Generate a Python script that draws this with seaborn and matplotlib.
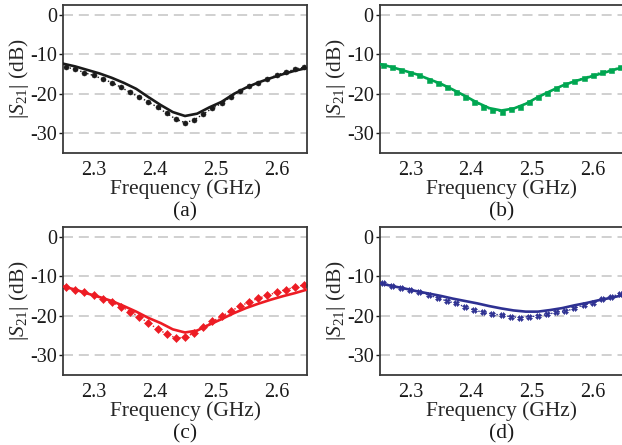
import matplotlib
matplotlib.use("Agg")
import matplotlib.pyplot as plt
import seaborn as sns
import pandas as pd

# ---------------- data ----------------
freq_line = [2.25, 2.27, 2.29, 2.31, 2.33, 2.35, 2.37, 2.39, 2.41, 2.43, 2.45,
             2.47, 2.49, 2.51, 2.53, 2.55, 2.57, 2.59, 2.61, 2.63, 2.65]
freq_meas = [2.255, 2.270, 2.285, 2.300, 2.315, 2.330, 2.345, 2.360, 2.375,
             2.390, 2.405, 2.420, 2.435, 2.450, 2.465, 2.480, 2.495, 2.510,
             2.525, 2.540, 2.555, 2.570, 2.585, 2.600, 2.615, 2.630, 2.645]

sim_a = [-12.4, -13.1, -14.0, -14.9, -16.0, -17.3, -18.8, -20.9, -22.9, -24.7, -25.7,
         -25.1, -23.5, -22.1, -20.1, -18.5, -17.2, -16.1, -15.1, -14.2, -13.5]
meas_a = [-13.3, -13.8, -14.7, -15.4, -16.3, -17.2, -18.4, -19.7, -20.9, -22.1,
          -23.5, -25.0, -26.5, -27.4, -26.7, -25.2, -23.7, -22.5, -20.9, -19.3,
          -18.2, -17.2, -16.4, -15.3, -14.6, -13.8, -13.3]

sim_b = [-12.5, -13.3, -14.2, -15.1, -16.3, -17.5, -19.0, -20.6, -22.3, -23.7, -24.3,
         -23.8, -22.6, -20.9, -19.4, -18.0, -16.9, -16.0, -15.1, -14.2, -13.3]
meas_b = [-12.7, -13.3, -14.0, -14.7, -15.4, -16.5, -17.4, -18.4, -19.5, -20.8,
          -22.1, -23.3, -24.2, -24.6, -24.0, -23.3, -22.1, -20.9, -19.8, -18.7,
          -17.6, -16.8, -16.0, -15.3, -14.5, -14.0, -13.3]

sim_c = [-12.6, -13.4, -14.4, -15.3, -16.3, -17.6, -19.0, -20.6, -21.9, -23.5, -24.3,
         -23.8, -22.3, -20.9, -19.4, -18.1, -17.0, -16.0, -15.1, -14.3, -13.4]
meas_c = [-12.8, -13.4, -14.1, -14.9, -15.8, -16.6, -17.7, -19.0, -20.3, -21.9,
          -23.4, -24.7, -25.7, -25.5, -24.4, -23.0, -21.5, -20.2, -18.9, -17.6,
          -16.6, -15.6, -14.9, -14.1, -13.4, -12.8, -12.2]

sim_d = [-11.8, -12.5, -13.1, -13.8, -14.4, -15.0, -15.7, -16.3, -16.9, -17.6, -18.2,
         -18.7, -19.0, -19.0, -18.6, -18.1, -17.4, -16.8, -16.1, -15.5, -14.8]
meas_d = [-11.8, -12.4, -12.9, -13.5, -14.1, -14.8, -15.5, -16.3, -16.9, -17.8,
          -18.6, -19.2, -19.6, -19.9, -20.3, -20.5, -20.3, -20.1, -19.7, -19.2,
          -18.9, -18.2, -17.3, -16.7, -15.8, -15.2, -14.5]

panel_labels = ["(a)", "(b)", "(c)", "(d)"]
colors = ["#1a1a1a", "#00a651", "#ed1c24", "#2e3192"]
markers = ["o", "s", "D", "X"]
marker_sizes = [3.6, 3.6, 3.6, 4.0]
y_ticks = [0, -10, -20, -30]
x_ticks = [2.3, 2.4, 2.5, 2.6]

# ---------------- style ----------------
sns.set_theme(style="white")
plt.rcParams["font.family"] = ["Liberation Serif", "DejaVu Serif"]
plt.rcParams["mathtext.fontset"] = "custom"
plt.rcParams["mathtext.rm"] = "Liberation Serif"
plt.rcParams["mathtext.it"] = "Liberation Serif:italic"
plt.rcParams["axes.unicode_minus"] = False

W, H = 622, 445
fig = plt.figure(figsize=(W / 100, H / 100), dpi=100)

boxes = [(63, 5, 244, 148), (380, 5, 243, 148),
         (63, 227, 244, 148), (380, 227, 243, 148)]

sims = [sim_a, sim_b, sim_c, sim_d]
meas = [meas_a, meas_b, meas_c, meas_d]

for i in range(4):
    x0, y0, w, h = boxes[i]
    ax = fig.add_axes([x0 / W, 1 - (y0 + h) / H, w / W, h / H])
    for yt in y_ticks:
        ax.axhline(yt, color="#c8c8c8", lw=1.2, dashes=(6, 3.5), zorder=0)
    df_s = pd.DataFrame({"f": freq_line, "s21": sims[i]})
    df_m = pd.DataFrame({"f": freq_meas, "s21": meas[i]})
    sns.lineplot(data=df_m, x="f", y="s21", ax=ax, color=colors[i],
                 linestyle=":", lw=1.0, marker=markers[i],
                 markersize=marker_sizes[i],
                 markeredgewidth=0.4, markeredgecolor=colors[i],
                 estimator=None, sort=False, zorder=2)
    sns.lineplot(data=df_s, x="f", y="s21", ax=ax, color=colors[i],
                 lw=1.9, estimator=None, sort=False, zorder=3)
    ax.set_xlim(2.25, 2.65)
    ax.set_ylim(-35.1, 2.5)
    ax.set_xticks(x_ticks)
    ax.set_xticklabels([f"{v:.1f}" for v in x_ticks])
    ax.set_yticks(y_ticks)
    ax.set_yticklabels([str(v) for v in y_ticks])
    ax.tick_params(axis="x", length=0, pad=6, labelsize=14.5, colors="#1a1a1a")
    ax.tick_params(axis="y", length=3, width=1, direction="out", pad=1.5,
                   labelsize=14.5, colors="#1a1a1a", left=True)
    for sp in ax.spines.values():
        sp.set_color("#3a3a3a")
        sp.set_linewidth(1.3)
    ax.grid(False)
    ax.set_xlabel("Frequency (GHz)", fontsize=15.5, va="center")
    ax.xaxis.set_label_coords(0.5, -0.243)
    ax.set_ylabel(r"$|S_{21}|$ (dB)", fontsize=15.5, va="center")
    ax.yaxis.set_label_coords(-0.182, 0.5)
    ax.text(0.5, -0.399, panel_labels[i], transform=ax.transAxes,
            ha="center", va="center", fontsize=15.5, color="#1a1a1a")

fig.savefig("out.png", dpi=100)
